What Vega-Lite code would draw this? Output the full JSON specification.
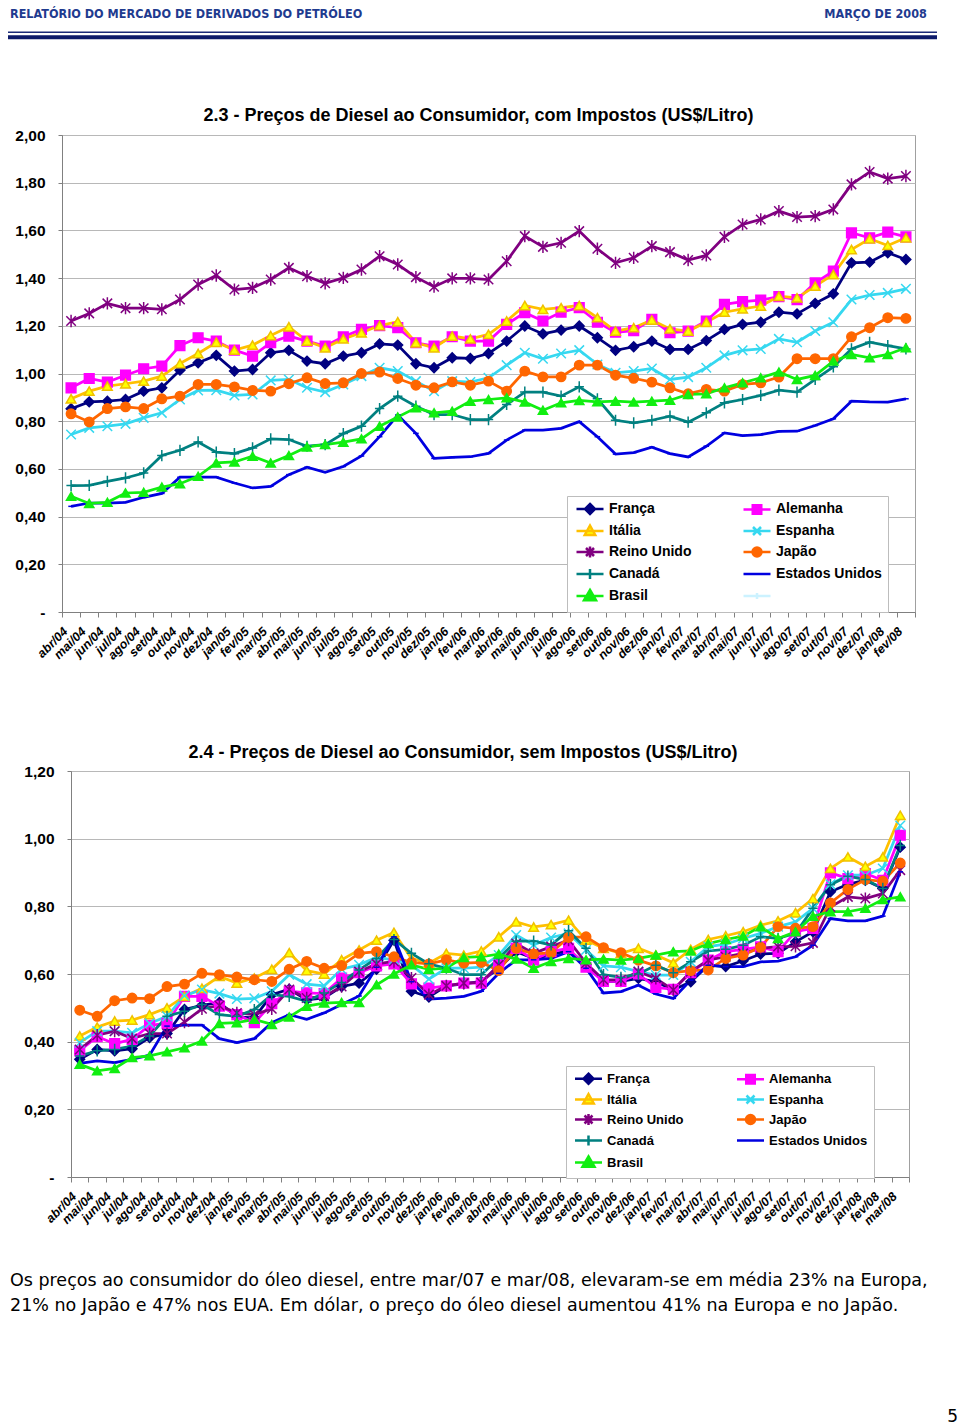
{
  "$schema": "https://vega.github.io/schema/vega-lite/v6.json",
  "padding": {"left": 6, "top": 0, "right": 0, "bottom": 0},
  "background": "white",
  "spacing": 0,
  "resolve": {"scale": {"color": "independent", "fill": "independent", "stroke": "independent", "shape": "independent", "size": "independent"}, "legend": {"color": "independent", "fill": "independent", "stroke": "independent", "shape": "independent", "size": "independent"}},
  "config": {"font": "Liberation Sans", "view": {"stroke": null}},
  "datasets": {
    "c1": [
      {"m":"abr/04","França":0.852,"Itália":0.894,"Reino Unido":1.220,"Canadá":0.530,"Brasil":0.485,"Alemanha":0.940,"Espanha":0.744,"Japão":0.831,"Estados Unidos":0.443},
      {"m":"mai/04","França":0.881,"Itália":0.926,"Reino Unido":1.252,"Canadá":0.531,"Brasil":0.455,"Alemanha":0.979,"Espanha":0.772,"Japão":0.797,"Estados Unidos":0.457},
      {"m":"jun/04","França":0.884,"Itália":0.947,"Reino Unido":1.294,"Canadá":0.548,"Brasil":0.460,"Alemanha":0.964,"Espanha":0.779,"Japão":0.853,"Estados Unidos":0.457},
      {"m":"jul/04","França":0.891,"Itália":0.957,"Reino Unido":1.274,"Canadá":0.562,"Brasil":0.499,"Alemanha":0.993,"Espanha":0.789,"Japão":0.860,"Estados Unidos":0.460},
      {"m":"ago/04","França":0.926,"Itália":0.968,"Reino Unido":1.274,"Canadá":0.583,"Brasil":0.502,"Alemanha":1.020,"Espanha":0.814,"Japão":0.853,"Estados Unidos":0.481},
      {"m":"set/04","França":0.940,"Itália":0.989,"Reino Unido":1.269,"Canadá":0.656,"Brasil":0.524,"Alemanha":1.031,"Espanha":0.835,"Japão":0.894,"Estados Unidos":0.497},
      {"m":"out/04","França":1.014,"Itália":1.042,"Reino Unido":1.310,"Canadá":0.678,"Brasil":0.538,"Alemanha":1.117,"Espanha":0.891,"Japão":0.905,"Estados Unidos":0.565},
      {"m":"nov/04","França":1.045,"Itália":1.084,"Reino Unido":1.373,"Canadá":0.713,"Brasil":0.569,"Alemanha":1.150,"Espanha":0.929,"Japão":0.954,"Estados Unidos":0.565},
      {"m":"dez/04","França":1.076,"Itália":1.131,"Reino Unido":1.411,"Canadá":0.670,"Brasil":0.625,"Alemanha":1.136,"Espanha":0.930,"Japão":0.954,"Estados Unidos":0.565},
      {"m":"jan/05","França":1.010,"Itália":1.098,"Reino Unido":1.352,"Canadá":0.664,"Brasil":0.629,"Alemanha":1.098,"Espanha":0.908,"Japão":0.944,"Estados Unidos":0.541},
      {"m":"fev/05","França":1.017,"Itália":1.119,"Reino Unido":1.359,"Canadá":0.688,"Brasil":0.653,"Alemanha":1.073,"Espanha":0.912,"Japão":0.929,"Estados Unidos":0.520},
      {"m":"mar/05","França":1.087,"Itália":1.159,"Reino Unido":1.394,"Canadá":0.726,"Brasil":0.625,"Alemanha":1.129,"Espanha":0.971,"Japão":0.926,"Estados Unidos":0.527},
      {"m":"abr/05","França":1.097,"Itália":1.196,"Reino Unido":1.443,"Canadá":0.723,"Brasil":0.656,"Alemanha":1.157,"Espanha":0.975,"Japão":0.957,"Estados Unidos":0.576},
      {"m":"mai/05","França":1.052,"Itália":1.136,"Reino Unido":1.408,"Canadá":0.695,"Brasil":0.692,"Alemanha":1.136,"Espanha":0.940,"Japão":0.982,"Estados Unidos":0.607},
      {"m":"jun/05","França":1.041,"Itália":1.108,"Reino Unido":1.378,"Canadá":0.702,"Brasil":0.702,"Alemanha":1.115,"Espanha":0.922,"Japão":0.958,"Estados Unidos":0.586},
      {"m":"jul/05","França":1.073,"Itália":1.145,"Reino Unido":1.401,"Canadá":0.748,"Brasil":0.712,"Alemanha":1.154,"Espanha":0.954,"Japão":0.961,"Estados Unidos":0.610},
      {"m":"ago/05","França":1.087,"Itália":1.171,"Reino Unido":1.436,"Canadá":0.779,"Brasil":0.726,"Alemanha":1.185,"Espanha":0.989,"Japão":1.000,"Estados Unidos":0.654},
      {"m":"set/05","França":1.124,"Itália":1.201,"Reino Unido":1.492,"Canadá":0.853,"Brasil":0.779,"Alemanha":1.201,"Espanha":1.024,"Japão":1.006,"Estados Unidos":0.735},
      {"m":"out/05","França":1.119,"Itália":1.217,"Reino Unido":1.457,"Canadá":0.905,"Brasil":0.818,"Alemanha":1.192,"Espanha":1.010,"Japão":0.979,"Estados Unidos":0.826},
      {"m":"nov/05","França":1.041,"Itália":1.129,"Reino Unido":1.404,"Canadá":0.863,"Brasil":0.856,"Alemanha":1.129,"Espanha":0.968,"Japão":0.951,"Estados Unidos":0.749},
      {"m":"dez/05","França":1.024,"Itália":1.108,"Reino Unido":1.364,"Canadá":0.828,"Brasil":0.835,"Alemanha":1.115,"Espanha":0.926,"Japão":0.940,"Estados Unidos":0.644},
      {"m":"jan/06","França":1.066,"Itália":1.157,"Reino Unido":1.399,"Canadá":0.828,"Brasil":0.842,"Alemanha":1.154,"Espanha":0.968,"Japão":0.965,"Estados Unidos":0.648},
      {"m":"fev/06","França":1.063,"Itália":1.145,"Reino Unido":1.399,"Canadá":0.807,"Brasil":0.884,"Alemanha":1.136,"Espanha":0.964,"Japão":0.951,"Estados Unidos":0.651},
      {"m":"mar/06","França":1.084,"Itália":1.164,"Reino Unido":1.394,"Canadá":0.807,"Brasil":0.891,"Alemanha":1.136,"Espanha":0.982,"Japão":0.968,"Estados Unidos":0.665},
      {"m":"abr/06","França":1.136,"Itália":1.220,"Reino Unido":1.471,"Canadá":0.870,"Brasil":0.898,"Alemanha":1.206,"Espanha":1.035,"Japão":0.926,"Estados Unidos":0.721},
      {"m":"mai/06","França":1.199,"Itália":1.285,"Reino Unido":1.576,"Canadá":0.922,"Brasil":0.880,"Alemanha":1.255,"Espanha":1.087,"Japão":1.010,"Estados Unidos":0.763},
      {"m":"jun/06","França":1.166,"Itália":1.269,"Reino Unido":1.531,"Canadá":0.922,"Brasil":0.846,"Alemanha":1.220,"Espanha":1.062,"Japão":0.986,"Estados Unidos":0.763},
      {"m":"jul/06","França":1.182,"Itália":1.276,"Reino Unido":1.548,"Canadá":0.905,"Brasil":0.877,"Alemanha":1.257,"Espanha":1.084,"Japão":0.986,"Estados Unidos":0.770},
      {"m":"ago/06","França":1.199,"Itália":1.285,"Reino Unido":1.597,"Canadá":0.944,"Brasil":0.887,"Alemanha":1.276,"Espanha":1.098,"Japão":1.035,"Estados Unidos":0.798},
      {"m":"set/06","França":1.150,"Itália":1.234,"Reino Unido":1.523,"Canadá":0.894,"Brasil":0.881,"Alemanha":1.215,"Espanha":1.038,"Japão":1.035,"Estados Unidos":0.735},
      {"m":"out/06","França":1.097,"Itália":1.178,"Reino Unido":1.464,"Canadá":0.804,"Brasil":0.884,"Alemanha":1.173,"Espanha":1.003,"Japão":0.993,"Estados Unidos":0.662},
      {"m":"nov/06","França":1.112,"Itália":1.192,"Reino Unido":1.485,"Canadá":0.793,"Brasil":0.880,"Alemanha":1.180,"Espanha":1.010,"Japão":0.980,"Estados Unidos":0.668},
      {"m":"dez/06","França":1.136,"Itália":1.224,"Reino Unido":1.534,"Canadá":0.804,"Brasil":0.884,"Alemanha":1.227,"Espanha":1.021,"Japão":0.964,"Estados Unidos":0.691},
      {"m":"jan/07","França":1.101,"Itália":1.187,"Reino Unido":1.509,"Canadá":0.821,"Brasil":0.888,"Alemanha":1.171,"Espanha":0.975,"Japão":0.940,"Estados Unidos":0.664},
      {"m":"fev/07","França":1.101,"Itália":1.178,"Reino Unido":1.476,"Canadá":0.796,"Brasil":0.912,"Alemanha":1.178,"Espanha":0.985,"Japão":0.915,"Estados Unidos":0.650},
      {"m":"mar/07","França":1.138,"Itália":1.215,"Reino Unido":1.495,"Canadá":0.835,"Brasil":0.915,"Alemanha":1.220,"Espanha":1.024,"Japão":0.933,"Estados Unidos":0.695},
      {"m":"abr/07","França":1.185,"Itália":1.257,"Reino Unido":1.573,"Canadá":0.877,"Brasil":0.940,"Alemanha":1.290,"Espanha":1.076,"Japão":0.926,"Estados Unidos":0.751},
      {"m":"mai/07","França":1.206,"Itália":1.271,"Reino Unido":1.625,"Canadá":0.891,"Brasil":0.961,"Alemanha":1.301,"Espanha":1.097,"Japão":0.954,"Estados Unidos":0.740},
      {"m":"jun/07","França":1.215,"Itália":1.283,"Reino Unido":1.646,"Canadá":0.908,"Brasil":0.982,"Alemanha":1.308,"Espanha":1.103,"Japão":0.961,"Estados Unidos":0.744},
      {"m":"jul/07","França":1.257,"Itália":1.324,"Reino Unido":1.681,"Canadá":0.930,"Brasil":1.006,"Alemanha":1.322,"Espanha":1.145,"Japão":0.985,"Estados Unidos":0.757},
      {"m":"ago/07","França":1.250,"Itália":1.317,"Reino Unido":1.656,"Canadá":0.922,"Brasil":0.975,"Alemanha":1.310,"Espanha":1.131,"Japão":1.062,"Estados Unidos":0.758},
      {"m":"set/07","França":1.294,"Itália":1.366,"Reino Unido":1.660,"Canadá":0.975,"Brasil":0.992,"Alemanha":1.380,"Espanha":1.178,"Japão":1.062,"Estados Unidos":0.782},
      {"m":"out/07","França":1.334,"Itália":1.415,"Reino Unido":1.688,"Canadá":1.028,"Brasil":1.052,"Alemanha":1.429,"Espanha":1.215,"Japão":1.062,"Estados Unidos":0.810},
      {"m":"nov/07","França":1.464,"Itália":1.520,"Reino Unido":1.793,"Canadá":1.103,"Brasil":1.080,"Alemanha":1.590,"Espanha":1.310,"Japão":1.154,"Estados Unidos":0.884},
      {"m":"dez/07","França":1.467,"Itália":1.565,"Reino Unido":1.845,"Canadá":1.131,"Brasil":1.066,"Alemanha":1.569,"Espanha":1.329,"Japão":1.192,"Estados Unidos":0.881},
      {"m":"jan/08","França":1.506,"Itália":1.537,"Reino Unido":1.817,"Canadá":1.117,"Brasil":1.080,"Alemanha":1.593,"Espanha":1.338,"Japão":1.234,"Estados Unidos":0.880},
      {"m":"fev/08","França":1.478,"Itália":1.569,"Reino Unido":1.828,"Canadá":1.103,"Brasil":1.108,"Alemanha":1.573,"Espanha":1.355,"Japão":1.231,"Estados Unidos":0.894}
    ],
    "c2": [
      {"m":"abr/04","França":0.348,"Itália":0.417,"Reino Unido":0.377,"Canadá":0.358,"Brasil":0.333,"Alemanha":0.373,"Espanha":0.397,"Japão":0.493,"Estados Unidos":0.336},
      {"m":"mai/04","França":0.377,"Itália":0.443,"Reino Unido":0.419,"Canadá":0.373,"Brasil":0.314,"Alemanha":0.415,"Espanha":0.431,"Japão":0.475,"Estados Unidos":0.343},
      {"m":"jun/04","França":0.373,"Itália":0.461,"Reino Unido":0.431,"Canadá":0.377,"Brasil":0.321,"Alemanha":0.394,"Espanha":0.431,"Japão":0.521,"Estados Unidos":0.338},
      {"m":"jul/04","França":0.379,"Itália":0.464,"Reino Unido":0.409,"Canadá":0.387,"Brasil":0.353,"Alemanha":0.407,"Espanha":0.426,"Japão":0.529,"Estados Unidos":0.348},
      {"m":"ago/04","França":0.412,"Itália":0.480,"Reino Unido":0.424,"Canadá":0.417,"Brasil":0.358,"Alemanha":0.448,"Espanha":0.454,"Japão":0.527,"Estados Unidos":0.360},
      {"m":"set/04","França":0.424,"Itália":0.500,"Reino Unido":0.424,"Canadá":0.475,"Brasil":0.370,"Alemanha":0.454,"Espanha":0.475,"Japão":0.563,"Estados Unidos":0.446},
      {"m":"out/04","França":0.495,"Itália":0.534,"Reino Unido":0.458,"Canadá":0.490,"Brasil":0.382,"Alemanha":0.534,"Espanha":0.536,"Japão":0.570,"Estados Unidos":0.449},
      {"m":"nov/04","França":0.507,"Itália":0.558,"Reino Unido":0.497,"Canadá":0.510,"Brasil":0.402,"Alemanha":0.534,"Espanha":0.554,"Japão":0.602,"Estados Unidos":0.449},
      {"m":"dez/04","França":0.516,"Itália":0.593,"Reino Unido":0.507,"Canadá":0.480,"Brasil":0.454,"Alemanha":0.505,"Espanha":0.542,"Japão":0.598,"Estados Unidos":0.409},
      {"m":"jan/05","França":0.473,"Itália":0.573,"Reino Unido":0.485,"Canadá":0.475,"Brasil":0.456,"Alemanha":0.480,"Espanha":0.526,"Japão":0.591,"Estados Unidos":0.397},
      {"m":"fev/05","França":0.470,"Itália":0.588,"Reino Unido":0.480,"Canadá":0.495,"Brasil":0.466,"Alemanha":0.456,"Espanha":0.528,"Japão":0.583,"Estados Unidos":0.409},
      {"m":"mar/05","França":0.539,"Itália":0.614,"Reino Unido":0.497,"Canadá":0.539,"Brasil":0.451,"Alemanha":0.512,"Espanha":0.549,"Japão":0.578,"Estados Unidos":0.456},
      {"m":"abr/05","França":0.555,"Itália":0.663,"Reino Unido":0.554,"Canadá":0.534,"Brasil":0.473,"Alemanha":0.549,"Espanha":0.598,"Japão":0.614,"Estados Unidos":0.480},
      {"m":"mai/05","França":0.524,"Itália":0.610,"Reino Unido":0.529,"Canadá":0.519,"Brasil":0.505,"Alemanha":0.544,"Espanha":0.570,"Japão":0.637,"Estados Unidos":0.466},
      {"m":"jun/05","França":0.529,"Itália":0.600,"Reino Unido":0.534,"Canadá":0.544,"Brasil":0.514,"Alemanha":0.542,"Espanha":0.565,"Japão":0.617,"Estados Unidos":0.485},
      {"m":"jul/05","França":0.563,"Itália":0.642,"Reino Unido":0.563,"Canadá":0.575,"Brasil":0.516,"Alemanha":0.588,"Espanha":0.614,"Japão":0.625,"Estados Unidos":0.510},
      {"m":"ago/05","França":0.573,"Itália":0.671,"Reino Unido":0.607,"Canadá":0.612,"Brasil":0.516,"Alemanha":0.604,"Espanha":0.627,"Japão":0.661,"Estados Unidos":0.535},
      {"m":"set/05","França":0.614,"Itália":0.700,"Reino Unido":0.630,"Canadá":0.646,"Brasil":0.568,"Alemanha":0.624,"Espanha":0.649,"Japão":0.666,"Estados Unidos":0.620},
      {"m":"out/05","França":0.700,"Itália":0.723,"Reino Unido":0.637,"Canadá":0.702,"Brasil":0.600,"Alemanha":0.630,"Espanha":0.642,"Japão":0.651,"Estados Unidos":0.710},
      {"m":"nov/05","França":0.549,"Itália":0.646,"Reino Unido":0.588,"Canadá":0.661,"Brasil":0.627,"Alemanha":0.571,"Espanha":0.627,"Japão":0.634,"Estados Unidos":0.577},
      {"m":"dez/05","França":0.532,"Itália":0.632,"Reino Unido":0.539,"Canadá":0.630,"Brasil":0.614,"Alemanha":0.558,"Espanha":0.585,"Japão":0.630,"Estados Unidos":0.526},
      {"m":"jan/06","França":0.565,"Itália":0.661,"Reino Unido":0.565,"Canadá":0.617,"Brasil":0.617,"Alemanha":0.565,"Espanha":0.617,"Japão":0.642,"Estados Unidos":0.529},
      {"m":"fev/06","França":0.571,"Itália":0.656,"Reino Unido":0.573,"Canadá":0.598,"Brasil":0.649,"Alemanha":0.573,"Espanha":0.617,"Japão":0.632,"Estados Unidos":0.534},
      {"m":"mar/06","França":0.578,"Itália":0.668,"Reino Unido":0.575,"Canadá":0.598,"Brasil":0.651,"Alemanha":0.573,"Espanha":0.620,"Japão":0.634,"Estados Unidos":0.549},
      {"m":"abr/06","França":0.617,"Itália":0.710,"Reino Unido":0.627,"Canadá":0.646,"Brasil":0.659,"Alemanha":0.627,"Espanha":0.656,"Japão":0.610,"Estados Unidos":0.602},
      {"m":"mai/06","França":0.666,"Itália":0.754,"Reino Unido":0.690,"Canadá":0.697,"Brasil":0.644,"Alemanha":0.676,"Espanha":0.715,"Japão":0.676,"Estados Unidos":0.642},
      {"m":"jun/06","França":0.646,"Itália":0.739,"Reino Unido":0.661,"Canadá":0.697,"Brasil":0.617,"Alemanha":0.642,"Espanha":0.686,"Japão":0.659,"Estados Unidos":0.642},
      {"m":"jul/06","França":0.656,"Itália":0.746,"Reino Unido":0.681,"Canadá":0.686,"Brasil":0.637,"Alemanha":0.666,"Espanha":0.708,"Japão":0.663,"Estados Unidos":0.646},
      {"m":"ago/06","França":0.671,"Itália":0.759,"Reino Unido":0.700,"Canadá":0.728,"Brasil":0.646,"Alemanha":0.676,"Espanha":0.720,"Japão":0.708,"Estados Unidos":0.666},
      {"m":"set/06","França":0.627,"Itália":0.700,"Reino Unido":0.632,"Canadá":0.676,"Brasil":0.642,"Alemanha":0.620,"Espanha":0.671,"Japão":0.710,"Estados Unidos":0.617},
      {"m":"out/06","França":0.578,"Itália":0.676,"Reino Unido":0.583,"Canadá":0.598,"Brasil":0.644,"Alemanha":0.578,"Espanha":0.624,"Japão":0.678,"Estados Unidos":0.544},
      {"m":"nov/06","França":0.578,"Itália":0.661,"Reino Unido":0.583,"Canadá":0.590,"Brasil":0.641,"Alemanha":0.578,"Espanha":0.620,"Japão":0.663,"Estados Unidos":0.548},
      {"m":"dez/06","França":0.587,"Itália":0.676,"Reino Unido":0.607,"Canadá":0.600,"Brasil":0.646,"Alemanha":0.600,"Espanha":0.607,"Japão":0.641,"Estados Unidos":0.567},
      {"m":"jan/07","França":0.577,"Itália":0.656,"Reino Unido":0.587,"Canadá":0.626,"Brasil":0.656,"Alemanha":0.560,"Espanha":0.597,"Japão":0.624,"Estados Unidos":0.541},
      {"m":"fev/07","França":0.553,"Itália":0.633,"Reino Unido":0.553,"Canadá":0.604,"Brasil":0.666,"Alemanha":0.555,"Espanha":0.597,"Japão":0.604,"Estados Unidos":0.528},
      {"m":"mar/07","França":0.577,"Itália":0.673,"Reino Unido":0.607,"Canadá":0.636,"Brasil":0.668,"Alemanha":0.604,"Espanha":0.636,"Japão":0.610,"Estados Unidos":0.582},
      {"m":"abr/07","França":0.626,"Itália":0.702,"Reino Unido":0.641,"Canadá":0.668,"Brasil":0.690,"Alemanha":0.641,"Espanha":0.681,"Japão":0.612,"Estados Unidos":0.626},
      {"m":"mai/07","França":0.622,"Itália":0.713,"Reino Unido":0.651,"Canadá":0.673,"Brasil":0.702,"Alemanha":0.666,"Espanha":0.688,"Japão":0.646,"Estados Unidos":0.622},
      {"m":"jun/07","França":0.639,"Itália":0.725,"Reino Unido":0.661,"Canadá":0.685,"Brasil":0.712,"Alemanha":0.673,"Espanha":0.705,"Japão":0.656,"Estados Unidos":0.622},
      {"m":"jul/07","França":0.659,"Itália":0.744,"Reino Unido":0.676,"Canadá":0.710,"Brasil":0.740,"Alemanha":0.680,"Espanha":0.720,"Japão":0.679,"Estados Unidos":0.636},
      {"m":"ago/07","França":0.661,"Itália":0.757,"Reino Unido":0.681,"Canadá":0.705,"Brasil":0.705,"Alemanha":0.666,"Espanha":0.740,"Japão":0.740,"Estados Unidos":0.638},
      {"m":"set/07","França":0.695,"Itália":0.781,"Reino Unido":0.682,"Canadá":0.720,"Brasil":0.725,"Alemanha":0.725,"Espanha":0.754,"Japão":0.735,"Estados Unidos":0.651},
      {"m":"out/07","França":0.725,"Itália":0.823,"Reino Unido":0.692,"Canadá":0.794,"Brasil":0.771,"Alemanha":0.735,"Espanha":0.794,"Japão":0.740,"Estados Unidos":0.685},
      {"m":"nov/07","França":0.843,"Itália":0.912,"Reino Unido":0.798,"Canadá":0.864,"Brasil":0.784,"Alemanha":0.899,"Espanha":0.865,"Japão":0.810,"Estados Unidos":0.764},
      {"m":"dez/07","França":0.865,"Itália":0.946,"Reino Unido":0.828,"Canadá":0.889,"Brasil":0.784,"Alemanha":0.882,"Espanha":0.892,"Japão":0.850,"Estados Unidos":0.757},
      {"m":"jan/08","França":0.877,"Itália":0.918,"Reino Unido":0.823,"Canadá":0.879,"Brasil":0.794,"Alemanha":0.897,"Espanha":0.892,"Japão":0.879,"Estados Unidos":0.757},
      {"m":"fev/08","França":0.853,"Itália":0.946,"Reino Unido":0.838,"Canadá":0.853,"Brasil":0.820,"Alemanha":0.877,"Espanha":0.912,"Japão":0.874,"Estados Unidos":0.771},
      {"m":"mar/08","França":0.975,"Itália":1.069,"Reino Unido":0.907,"Canadá":0.980,"Brasil":0.828,"Alemanha":1.010,"Espanha":1.039,"Japão":0.928,"Estados Unidos":0.902}
    ]
  },
  "vconcat": [
    {
      "width": 929, "height": 42,
      "view": {"stroke": null},
      "data": {"values": [{"a": "RELATÓRIO DO MERCADO DE DERIVADOS DO PETRÓLEO", "b": "MARÇO DE 2008"}]},
      "layer": [
        {"mark": {"type": "rule", "color": "#1a2a78", "strokeWidth": 1.5},
         "encoding": {"y": {"datum": 0.77, "type": "quantitative", "scale": {"domain": [0, 1], "reverse": true}, "axis": null}}},
        {"mark": {"type": "rule", "color": "#0c1a6a", "strokeWidth": 4},
         "encoding": {"y": {"datum": 0.885, "type": "quantitative"}}},
        {"mark": {"type": "text", "align": "left", "baseline": "alphabetic", "font": "DejaVu Sans Condensed", "fontWeight": "bold", "fontSize": 12.5, "color": "#1f3b8f", "dx": 2},
         "encoding": {"text": {"field": "a"}, "x": {"datum": 0, "type": "quantitative", "scale": {"domain": [0, 1]}, "axis": null}, "y": {"datum": 0.43, "type": "quantitative"}}},
        {"mark": {"type": "text", "align": "right", "baseline": "alphabetic", "font": "DejaVu Sans Condensed", "fontWeight": "bold", "fontSize": 12.5, "color": "#1f3b8f"},
         "encoding": {"text": {"field": "b"}, "x": {"datum": 0.989, "type": "quantitative"}, "y": {"datum": 0.43, "type": "quantitative"}}}
      ]
    },
    {
      "resolve": {"scale": {"color": "independent", "fill": "independent", "stroke": "independent", "shape": "independent", "size": "independent"}, "legend": {"color": "independent", "fill": "independent", "stroke": "independent", "shape": "independent", "size": "independent"}},
      "hconcat": [
        {"width": 1, "height": 1, "view": {"stroke": null}, "data": {"values": [{}]}, "mark": {"type": "text"}, "encoding": {"text": {"value": ""}}},
        {
          "width": 853, "height": 477,
          "view": {"stroke": "#a0a0a0"},
          "data": {"name": "c1"},
          "transform": [{"fold": ["França", "Alemanha", "Itália", "Espanha", "Reino Unido", "Japão", "Canadá", "Estados Unidos", "Brasil"], "as": ["s", "v"]}],
          "title": {"text": ["", "2.3 - Preços de Diesel ao Consumidor, com Impostos (US$/Litro)"], "font": "Liberation Sans", "fontSize": 18, "fontWeight": "bold", "color": "black", "lineHeight": 64, "offset": 3, "anchor": "middle", "frame": "group", "dx": -10},
          "encoding": {
            "x": {"field": "m", "type": "ordinal", "sort": null, "scale": {"type": "band", "paddingInner": 0, "paddingOuter": 0},
                  "axis": {"title": null, "labelAngle": -45, "labelAlign": "right", "labelBaseline": "middle", "labelFont": "Liberation Sans", "labelFontSize": 12.5, "labelFontStyle": "italic", "labelFontWeight": "bold", "labelColor": "black", "labelOverlap": false, "tickBand": "extent", "tickSize": 5, "tickColor": "#808080", "domainColor": "#808080", "labelPadding": 12, "labelOffset": -6, "grid": false}},
            "y": {"field": "v", "type": "quantitative", "scale": {"domain": [0, 2], "nice": false},
                  "axis": {"title": null, "values": [0, 0.2, 0.4, 0.6, 0.8, 1, 1.2, 1.4, 1.6, 1.8, 2], "labelExpr": "datum.value == 0 ? '-' : replace(format(datum.value, '.2f'), '.', ',')", "grid": true, "gridColor": "#b8b8b8", "domainColor": "#808080", "tickColor": "#808080", "tickSize": 4, "labelPadding": 13, "labelFont": "Liberation Sans", "labelFontSize": 15.5, "labelFontWeight": "bold", "labelColor": "black"}}
          },
          "layer": [
            {"mark": {"type": "line", "strokeWidth": 2.75},
             "encoding": {
               "order": {"value": null},
               "color": {"field": "s", "type": "nominal",
                 "scale": {"domain": ["França", "Itália", "Reino Unido", "Canadá", "Brasil", "Alemanha", "Espanha", "Japão", "Estados Unidos", " "],
                           "range": ["#000080", "#FFC000", "#800080", "#008080", "#11EE11", "#FF00FF", "#36D8F0", "#FF6600", "#0000E0", "#CCF2FF"]},
                 "legend": {"title": null, "orient": "none", "legendX": 505, "legendY": 361, "columns": 2, "fillColor": "white", "strokeColor": "#bdbdbd", "padding": 6,
                   "labelFont": "Liberation Sans", "labelFontSize": 14, "labelFontWeight": "bold", "labelColor": "black", "labelLimit": 200,
                   "symbolSize": 100, "rowPadding": 1, "columnPadding": 46, "labelOffset": 12, "symbolOffset": 10,
                   "encode": {"symbols": {"update": {
                     "shape": {"signal": "['M-2.7,0L2.7,0M0,-1L1,0L0,1L-1,0Z','M-2.7,0L2.7,0M-0.85,-0.85L0.85,-0.85L0.85,0.85L-0.85,0.85Z','M-2.7,0L2.7,0M0,-1.1L1.05,0.8L-1.05,0.8Z','M-2.7,0L2.7,0M-0.8,-0.8L0.8,0.8M-0.8,0.8L0.8,-0.8','M-2.7,0L2.7,0M-0.8,-0.8L0.8,0.8M-0.8,0.8L0.8,-0.8M0,-1.1L0,1.1','M-2.7,0L2.7,0M-0.9,0A0.9,0.9,0,1,0,0.9,0A0.9,0.9,0,1,0,-0.9,0Z','M-2.7,0L2.7,0M0,-1L0,1','M-2.7,0L2.7,0','M-2.7,0L2.7,0M0,-1.2L1.2,0.85L-1.2,0.85Z','M-2.7,0L2.7,0M0,-0.6L0,0.6'][indexof(['França','Alemanha','Itália','Espanha','Reino Unido','Japão','Canadá','Estados Unidos','Brasil',' '], datum.value)]"},
                     "fill": {"signal": "['#000080','#FF00FF','#FFFF00','transparent','transparent','#FF6600','transparent','transparent','#11EE11','transparent'][indexof(['França','Alemanha','Itália','Espanha','Reino Unido','Japão','Canadá','Estados Unidos','Brasil',' '], datum.value)]"},
                     "stroke": {"signal": "['#000080','#FF00FF','#FFC000','#36D8F0','#800080','#FF6600','#008080','#0000E0','#11EE11','#CCF2FF'][indexof(['França','Alemanha','Itália','Espanha','Reino Unido','Japão','Canadá','Estados Unidos','Brasil',' '], datum.value)]"},
                     "strokeWidth": {"value": 2.5},
                     "opacity": {"value": 1}
                   }}}
                 }}
             }},
            {"mark": {"type": "point", "filled": true, "opacity": 1, "strokeWidth": 1.5},
             "encoding": {
               "shape": {"field": "s", "type": "nominal", "legend": null,
                 "scale": {"domain": ["França", "Alemanha", "Itália", "Espanha", "Reino Unido", "Japão", "Canadá", "Estados Unidos", "Brasil"],
                           "range": ["diamond", "square", "triangle-up", "M-1,-1L1,1M-1,1L1,-1", "M-1,-1L1,1M-1,1L1,-1M0,-1.3L0,1.3", "circle", "M-1,0L1,0M0,-1.2L0,1.2", "M-0.6,0L0.6,0", "triangle-up"]}},
               "fill": {"field": "s", "type": "nominal", "legend": null,
                 "scale": {"domain": ["França", "Alemanha", "Itália", "Espanha", "Reino Unido", "Japão", "Canadá", "Estados Unidos", "Brasil"],
                           "range": ["#000080", "#FF00FF", "#FFFF00", "transparent", "transparent", "#FF6600", "transparent", "transparent", "#11EE11"]}},
               "stroke": {"field": "s", "type": "nominal", "legend": null,
                 "scale": {"domain": ["França", "Alemanha", "Itália", "Espanha", "Reino Unido", "Japão", "Canadá", "Estados Unidos", "Brasil"],
                           "range": ["#000080", "#FF00FF", "#F0C000", "#36D8F0", "#800080", "#FF6600", "#008080", "#0000E0", "#11EE11"]}},
               "size": {"field": "s", "type": "nominal", "legend": null,
                 "scale": {"domain": ["França", "Alemanha", "Itália", "Espanha", "Reino Unido", "Japão", "Canadá", "Estados Unidos", "Brasil"],
                           "range": [95, 85, 100, 70, 90, 85, 75, 20, 150]}}
             }}
          ]
        }
      ],
      "spacing": 53,
      "bounds": "flush"
    },
    {
      "resolve": {"scale": {"color": "independent", "fill": "independent", "stroke": "independent", "shape": "independent", "size": "independent"}, "legend": {"color": "independent", "fill": "independent", "stroke": "independent", "shape": "independent", "size": "independent"}},
      "hconcat": [
        {"width": 1, "height": 1, "view": {"stroke": null}, "data": {"values": [{}]}, "mark": {"type": "text"}, "encoding": {"text": {"value": ""}}},
        {
          "width": 838, "height": 406,
          "view": {"stroke": "#a0a0a0"},
          "data": {"name": "c2"},
          "transform": [{"fold": ["França", "Alemanha", "Itália", "Espanha", "Reino Unido", "Japão", "Canadá", "Estados Unidos", "Brasil"], "as": ["s", "v"]}],
          "title": {"text": ["", "2.4 - Preços de Diesel ao Consumidor, sem Impostos (US$/Litro)"], "font": "Liberation Sans", "fontSize": 18, "fontWeight": "bold", "color": "black", "lineHeight": 80, "offset": 2, "anchor": "middle", "frame": "group", "dx": -27},
          "encoding": {
            "x": {"field": "m", "type": "ordinal", "sort": null, "scale": {"type": "band", "paddingInner": 0, "paddingOuter": 0},
                  "axis": {"title": null, "labelAngle": -45, "labelAlign": "right", "labelBaseline": "middle", "labelFont": "Liberation Sans", "labelFontSize": 12.5, "labelFontStyle": "italic", "labelFontWeight": "bold", "labelColor": "black", "labelOverlap": false, "tickBand": "extent", "tickSize": 5, "tickColor": "#808080", "domainColor": "#808080", "labelPadding": 12, "labelOffset": -6, "grid": false}},
            "y": {"field": "v", "type": "quantitative", "scale": {"domain": [0, 1.2], "nice": false},
                  "axis": {"title": null, "values": [0, 0.2, 0.4, 0.6, 0.8, 1, 1.2], "labelExpr": "datum.value == 0 ? '-' : replace(format(datum.value, '.2f'), '.', ',')", "grid": true, "gridColor": "#b8b8b8", "domainColor": "#808080", "tickColor": "#808080", "tickSize": 4, "labelPadding": 13, "labelFont": "Liberation Sans", "labelFontSize": 15.5, "labelFontWeight": "bold", "labelColor": "black"}}
          },
          "layer": [
            {"mark": {"type": "line", "strokeWidth": 2.75},
             "encoding": {
               "order": {"value": null},
               "color": {"field": "s", "type": "nominal",
                 "scale": {"domain": ["França", "Itália", "Reino Unido", "Canadá", "Brasil", "Alemanha", "Espanha", "Japão", "Estados Unidos"],
                           "range": ["#000080", "#FFC000", "#800080", "#008080", "#11EE11", "#FF00FF", "#36D8F0", "#FF6600", "#0000E0"]},
                 "legend": {"title": null, "orient": "none", "legendX": 495, "legendY": 295, "columns": 2, "fillColor": "white", "strokeColor": "#bdbdbd", "padding": 6,
                   "labelFont": "Liberation Sans", "labelFontSize": 13, "labelFontWeight": "bold", "labelColor": "black", "labelLimit": 200,
                   "symbolSize": 100, "rowPadding": 0, "columnPadding": 48, "labelOffset": 12, "symbolOffset": 10,
                   "encode": {"symbols": {"update": {
                     "shape": {"signal": "['M-2.7,0L2.7,0M0,-1L1,0L0,1L-1,0Z','M-2.7,0L2.7,0M-0.85,-0.85L0.85,-0.85L0.85,0.85L-0.85,0.85Z','M-2.7,0L2.7,0M0,-1.1L1.05,0.8L-1.05,0.8Z','M-2.7,0L2.7,0M-0.8,-0.8L0.8,0.8M-0.8,0.8L0.8,-0.8','M-2.7,0L2.7,0M-0.8,-0.8L0.8,0.8M-0.8,0.8L0.8,-0.8M0,-1.1L0,1.1','M-2.7,0L2.7,0M-0.9,0A0.9,0.9,0,1,0,0.9,0A0.9,0.9,0,1,0,-0.9,0Z','M-2.7,0L2.7,0M0,-1L0,1','M-2.7,0L2.7,0','M-2.7,0L2.7,0M0,-1.2L1.2,0.85L-1.2,0.85Z'][indexof(['França','Alemanha','Itália','Espanha','Reino Unido','Japão','Canadá','Estados Unidos','Brasil'], datum.value)]"},
                     "fill": {"signal": "['#000080','#FF00FF','#FFFF00','transparent','transparent','#FF6600','transparent','transparent','#11EE11'][indexof(['França','Alemanha','Itália','Espanha','Reino Unido','Japão','Canadá','Estados Unidos','Brasil'], datum.value)]"},
                     "stroke": {"signal": "['#000080','#FF00FF','#FFC000','#36D8F0','#800080','#FF6600','#008080','#0000E0','#11EE11'][indexof(['França','Alemanha','Itália','Espanha','Reino Unido','Japão','Canadá','Estados Unidos','Brasil'], datum.value)]"},
                     "strokeWidth": {"value": 2.5},
                     "opacity": {"value": 1}
                   }}}
                 }}
             }},
            {"mark": {"type": "point", "filled": true, "opacity": 1, "strokeWidth": 1.5},
             "encoding": {
               "shape": {"field": "s", "type": "nominal", "legend": null,
                 "scale": {"domain": ["França", "Alemanha", "Itália", "Espanha", "Reino Unido", "Japão", "Canadá", "Estados Unidos", "Brasil"],
                           "range": ["diamond", "square", "triangle-up", "M-1,-1L1,1M-1,1L1,-1", "M-1,-1L1,1M-1,1L1,-1M0,-1.3L0,1.3", "circle", "M-1,0L1,0M0,-1.2L0,1.2", "M-0.6,0L0.6,0", "triangle-up"]}},
               "fill": {"field": "s", "type": "nominal", "legend": null,
                 "scale": {"domain": ["França", "Alemanha", "Itália", "Espanha", "Reino Unido", "Japão", "Canadá", "Estados Unidos", "Brasil"],
                           "range": ["#000080", "#FF00FF", "#FFFF00", "transparent", "transparent", "#FF6600", "transparent", "transparent", "#11EE11"]}},
               "stroke": {"field": "s", "type": "nominal", "legend": null,
                 "scale": {"domain": ["França", "Alemanha", "Itália", "Espanha", "Reino Unido", "Japão", "Canadá", "Estados Unidos", "Brasil"],
                           "range": ["#000080", "#FF00FF", "#F0C000", "#36D8F0", "#800080", "#FF6600", "#008080", "#0000E0", "#11EE11"]}},
               "size": {"field": "s", "type": "nominal", "legend": null,
                 "scale": {"domain": ["França", "Alemanha", "Itália", "Espanha", "Reino Unido", "Japão", "Canadá", "Estados Unidos", "Brasil"],
                           "range": [95, 85, 100, 70, 90, 85, 75, 20, 150]}}
             }}
          ]
        }
      ],
      "spacing": 62,
      "bounds": "flush"
    },
    {
      "width": 950, "height": 210,
      "view": {"stroke": null},
      "data": {"values": [{"t": "Os preços ao consumidor do óleo diesel, entre mar/07 e mar/08, elevaram-se em média 23% na Europa,\n21% no Japão e 47% nos EUA. Em dólar, o preço do óleo diesel aumentou 41% na Europa e no Japão.", "p": "5"}]},
      "layer": [
        {"mark": {"type": "text", "align": "left", "baseline": "alphabetic", "lineBreak": "\n", "lineHeight": 25, "fontSize": 17.5, "font": "DejaVu Sans", "color": "black", "dx": 2},
         "encoding": {"text": {"field": "t"}, "x": {"datum": 0, "type": "quantitative", "scale": {"domain": [0, 1]}, "axis": null}, "y": {"datum": 0.276, "type": "quantitative", "scale": {"domain": [0, 1], "reverse": true}, "axis": null}}},
        {"mark": {"type": "text", "align": "right", "baseline": "alphabetic", "fontSize": 17, "font": "DejaVu Sans", "color": "black"},
         "encoding": {"text": {"field": "p"}, "x": {"datum": 1, "type": "quantitative"}, "y": {"datum": 0.925, "type": "quantitative"}}}
      ]
    }
  ]
}
